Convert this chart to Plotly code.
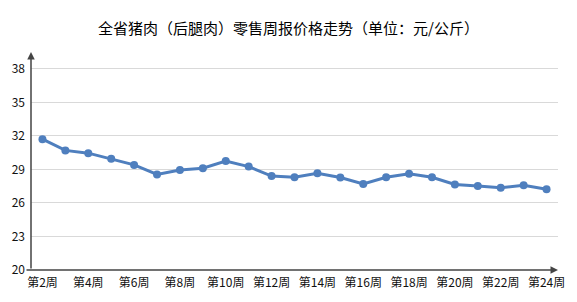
import plotly.graph_objects as go

weeks = [f"第{i}周" for i in range(2, 25)]
prices = [31.7, 30.7, 30.45, 29.95, 29.4, 28.55, 28.95, 29.1, 29.75, 29.25, 28.4, 28.3,
          28.65, 28.27, 27.7, 28.3, 28.6, 28.3, 27.65, 27.52, 27.35, 27.58, 27.22]
y_ticks = [20, 23, 26, 29, 32, 35, 38]
x_ticks = [weeks[i] for i in range(0, len(weeks), 2)]
title = "全省猪肉（后腿肉）零售周报价格走势（单位：元/公斤）"

cjk = "'Noto Sans CJK SC', sans-serif"

fig = go.Figure()
fig.add_trace(go.Scatter(
    x=weeks, y=prices, mode="lines+markers",
    line=dict(color="#4F7FBE", width=3),
    marker=dict(color="#4F7FBE", size=8),
    hoverinfo="skip", showlegend=False,
))

fig.update_layout(
    width=577, height=302,
    margin=dict(l=29, r=15, t=52, b=32),
    paper_bgcolor="white", plot_bgcolor="white",
    title=dict(text=title, x=0.5, xanchor="center", y=0.905, yanchor="middle",
               font=dict(family=cjk, size=15, color="#000")),
    xaxis=dict(type="category", range=[-0.5, 22.5], tickmode="array",
               tickvals=x_ticks, ticktext=x_ticks, showgrid=False, showline=False,
               zeroline=False, ticks="", ticklabelstandoff=4,
               tickfont=dict(family=cjk, size=12, color="#111")),
    yaxis=dict(range=[20, 39.5], tickmode="array", tickvals=y_ticks,
               showgrid=True, gridcolor="#D9D9D9", gridwidth=1, zeroline=False,
               showline=False, ticks="", ticklabelstandoff=5,
               tickfont=dict(family=cjk, size=12, color="#111")),
)

# axis lines with arrowheads
fig.add_annotation(xref="paper", yref="paper", x=0, y=1, ax=0, ay=218,
                   axref="pixel", ayref="pixel", text="", showarrow=True,
                   arrowhead=2, arrowsize=1, arrowwidth=1.5, arrowcolor="#444")
fig.add_annotation(xref="paper", yref="paper", x=1, y=0, ax=-533, ay=0,
                   axref="pixel", ayref="pixel", text="", showarrow=True,
                   arrowhead=2, arrowsize=1, arrowwidth=1.5, arrowcolor="#444")

fig.write_html("out.html")
